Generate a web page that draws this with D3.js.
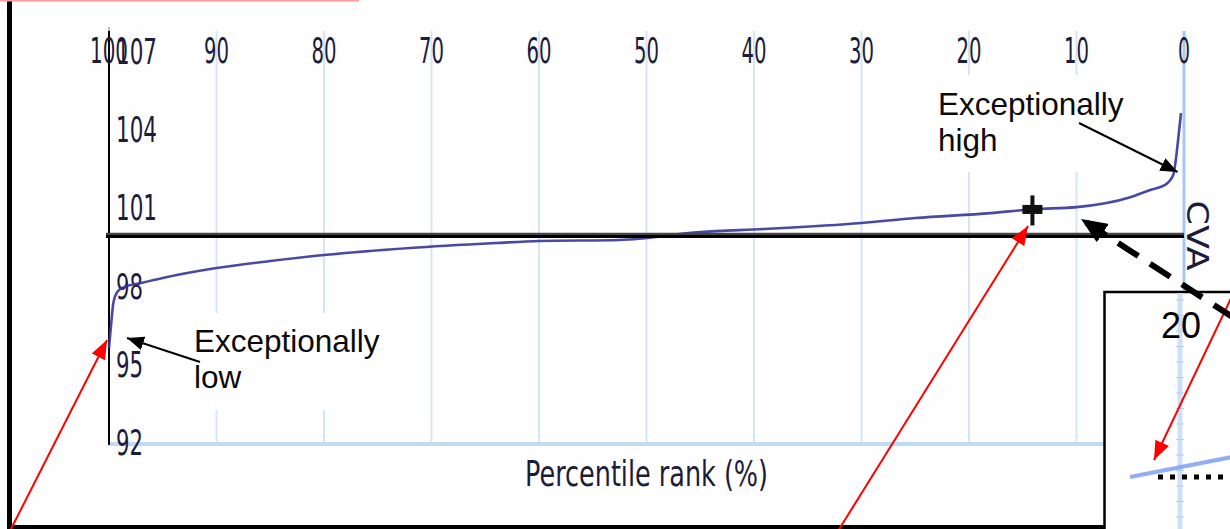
<!DOCTYPE html>
<html><head><meta charset="utf-8">
<script src="https://cdn.jsdelivr.net/npm/d3@7"></script>
<style>html,body{margin:0;padding:0;background:#fefefe;overflow:hidden}</style>
</head><body><svg id="c" width="1230" height="529"></svg>
<script>
// ---- data ----
const percentiles = [100, 99.8, 99.6, 99.2, 98.6, 97, 95, 90, 85, 80, 72, 64, 60, 52.5, 45, 39, 30, 25, 18, 14, 10, 5, 3.2, 1.8, 1.0, 0.8, 0.55, 0.28];
const values      = [95.7, 96.6, 97.4, 97.85, 98.02, 98.18, 98.37, 98.75, 99.02, 99.25, 99.52, 99.71, 99.79, 99.83, 100.13, 100.25, 100.48, 100.67, 100.86, 101.01, 101.09, 101.47, 101.74, 101.93, 102.32, 102.78, 103.66, 104.7];
const xTicks = [100, 90, 80, 70, 60, 50, 40, 30, 20, 10, 0];
const yTicks = [107, 104, 101, 98, 95, 92];
const referenceValue = 100;
const referenceLabel = "CVA";
const markerPct = [14.1];
const markerVal = [101.0];
const xTitle = "Percentile rank (%)";
const noteHigh = ["Exceptionally", "high"];
const noteLow = ["Exceptionally", "low"];
const insetLabel = "20";

// ---- scales ----
const x = d3.scaleLinear().domain([100, 0]).range([109, 1184]);
const y = d3.scaleLinear().domain([92, 108]).range([444, 27]);

const svg = d3.select("#c");
const defs = svg.append("defs");
function mk(id, color, len, wid) {
  defs.append("marker").attr("id", id).attr("markerUnits", "userSpaceOnUse")
    .attr("markerWidth", len).attr("markerHeight", wid)
    .attr("refX", len).attr("refY", wid / 2).attr("orient", "auto")
    .append("path").attr("d", `M0,0L${len},${wid / 2}L0,${wid}Z`).attr("fill", color);
}
mk("ahB", "#000", 17, 14);
mk("ahR", "#ff0000", 19, 15);
mk("ahD", "#000", 26, 22);

svg.append("rect").attr("width", 1230).attr("height", 529).attr("fill", "#fefefe");

const labFont = "'DejaVu Sans', sans-serif";
const labCol = "#1c1c3a";

// gridlines
const g = svg.append("g");
g.selectAll("line.grid").data(xTicks.filter(d => d !== 100)).join("line")
  .attr("x1", d => x(d)).attr("x2", d => x(d))
  .attr("y1", 31).attr("y2", y(92))
  .attr("stroke", d => d === 0 ? "#a9c8f1" : "#d5e5f8")
  .attr("stroke-width", d => d === 0 ? 3 : 2);

// annotation white boxes (hide gridlines)
svg.append("rect").attr("x", 918).attr("y", 75).attr("width", 240).attr("height", 97).attr("fill", "#fff");
svg.append("rect").attr("x", 173).attr("y", 313).attr("width", 222).attr("height", 97).attr("fill", "#fff");

// bottom axis line
svg.append("line").attr("x1", x(100)).attr("x2", 1104).attr("y1", y(92)).attr("y2", y(92))
  .attr("stroke", "#c3daf5").attr("stroke-width", 4);
// left axis line
svg.append("line").attr("x1", x(100)).attr("x2", x(100)).attr("y1", 27).attr("y2", y(92) + 1)
  .attr("stroke", "#000").attr("stroke-width", 2);
svg.append("line").attr("x1", x(100)).attr("x2", x(100)).attr("y1", 27).attr("y2", 31)
  .attr("stroke", "#bbb").attr("stroke-width", 2);

// x tick labels (top)
svg.append("g").selectAll("text").data(xTicks).join("text")
  .attr("x", d => x(d)).attr("y", 50).attr("dy", "0.36em")
  .attr("text-anchor", "middle").attr("font-family", labFont).attr("font-size", 36)
  .attr("fill", labCol)
  .attr("textLength", d => String(d).length * 13 - 1).attr("lengthAdjust", "spacingAndGlyphs")
  .text(d => d);

// y tick labels
svg.append("g").selectAll("text").data(yTicks).join("text")
  .attr("x", 116).attr("y", d => y(d) - 2).attr("dy", "0.36em")
  .attr("text-anchor", "start").attr("font-family", labFont).attr("font-size", 36)
  .attr("fill", labCol)
  .attr("textLength", d => String(d).length * 14 - 1).attr("lengthAdjust", "spacingAndGlyphs")
  .text(d => d);

// x title
svg.append("text").attr("x", x(50)).attr("y", 473).attr("dy", "0.36em")
  .attr("text-anchor", "middle").attr("font-family", labFont).attr("font-size", 36)
  .attr("fill", labCol).attr("textLength", 243).attr("lengthAdjust", "spacingAndGlyphs")
  .text(xTitle);

// curve
const pts = percentiles.map((p, i) => [p, values[i]]);
svg.append("path").datum(pts)
  .attr("d", d3.line().x(d => x(d[0])).y(d => y(d[1])).curve(d3.curveMonotoneX))
  .attr("fill", "none").attr("stroke", "#35359a").attr("stroke-width", 2.6).attr("stroke-opacity", 0.9);

// reference line
svg.append("line").attr("x1", 106).attr("x2", x(0)).attr("y1", y(referenceValue) - 1.5).attr("y2", y(referenceValue) - 1.5)
  .attr("stroke", "#444").attr("stroke-width", 2.5);
svg.append("line").attr("x1", 106).attr("x2", x(0)).attr("y1", y(referenceValue) + 1).attr("y2", y(referenceValue) + 1)
  .attr("stroke", "#000").attr("stroke-width", 3);
svg.append("text").attr("transform", `translate(1198,${y(referenceValue)}) rotate(90)`)
  .attr("dy", "0.36em").attr("text-anchor", "middle").attr("font-family", labFont).attr("font-size", 30)
  .attr("fill", labCol).attr("textLength", 70).attr("lengthAdjust", "spacingAndGlyphs")
  .text(referenceLabel);

// marker "+"
const mg = svg.append("g").selectAll("g").data(markerPct).join("g")
  .attr("transform", (d, i) => `translate(${x(d)},${y(markerVal[i])})`);
mg.append("rect").attr("x", -10).attr("y", -4.5).attr("width", 20).attr("height", 9).attr("fill", "#111");
mg.append("rect").attr("x", -2).attr("y", -14).attr("width", 4).attr("height", 30).attr("fill", "#111");

// annotations
const noteFont = "'Liberation Sans', Arial, sans-serif";
svg.append("text").attr("font-family", noteFont).attr("font-size", 31.5).attr("fill", "#0a0a0a")
  .selectAll("tspan").data(noteHigh).join("tspan")
  .attr("x", 938).attr("y", (d, i) => 115 + i * 36).text(d => d);
svg.append("text").attr("font-family", noteFont).attr("font-size", 31.5).attr("fill", "#0a0a0a")
  .selectAll("tspan").data(noteLow).join("tspan")
  .attr("x", 194).attr("y", (d, i) => 352 + i * 36).text(d => d);

svg.append("line").attr("x1", 1079).attr("y1", 123).attr("x2", x(0.6)).attr("y2", 172)
  .attr("stroke", "#000").attr("stroke-width", 2).attr("marker-end", "url(#ahB)");
svg.append("line").attr("x1", 200).attr("y1", 362).attr("x2", 127).attr("y2", 338)
  .attr("stroke", "#000").attr("stroke-width", 2).attr("marker-end", "url(#ahB)");

// inset box
svg.append("rect").attr("x", 1104.5).attr("y", 292).attr("width", 140).attr("height", 250)
  .attr("fill", "#fff").attr("stroke", "#000").attr("stroke-width", 2.5);
svg.append("line").attr("x1", 1180).attr("x2", 1180).attr("y1", 293).attr("y2", 529)
  .attr("stroke", "#cde0f8").attr("stroke-width", 5);
svg.append("g").selectAll("line").data(d3.range(300, 529, 15.5)).join("line")
  .attr("x1", 1176).attr("x2", 1184).attr("y1", d => d).attr("y2", d => d)
  .attr("stroke", "#b5cff2").attr("stroke-width", 1);
svg.append("text").attr("x", 1181).attr("y", 338).attr("text-anchor", "middle")
  .attr("font-family", noteFont).attr("font-size", 36).attr("fill", "#000").text(insetLabel);
svg.append("line").attr("x1", 1130).attr("y1", 477).attr("x2", 1232).attr("y2", 457)
  .attr("stroke", "#7f9ff3").attr("stroke-width", 4).attr("stroke-opacity", 0.85);
svg.append("line").attr("x1", 1158).attr("y1", 477).attr("x2", 1232).attr("y2", 477)
  .attr("stroke", "#000").attr("stroke-width", 5).attr("stroke-dasharray", "5,7");

// outer frame
svg.append("line").attr("x1", 9.5).attr("x2", 9.5).attr("y1", 0).attr("y2", 529).attr("stroke", "#000").attr("stroke-width", 5);
svg.append("line").attr("x1", 7).attr("x2", 1105).attr("y1", 527).attr("y2", 527).attr("stroke", "#000").attr("stroke-width", 4);
svg.append("line").attr("x1", 0).attr("x2", 359).attr("y1", 0.5).attr("y2", 0.5).attr("stroke", "#ff9a9a").attr("stroke-width", 2);

// red arrows
svg.append("line").attr("x1", 10).attr("y1", 531).attr("x2", 107).attr("y2", 340)
  .attr("stroke", "#ff0000").attr("stroke-width", 2).attr("marker-end", "url(#ahR)");
svg.append("line").attr("x1", 838).attr("y1", 531).attr("x2", 1028).attr("y2", 226)
  .attr("stroke", "#ff0000").attr("stroke-width", 2).attr("marker-end", "url(#ahR)");
svg.append("line").attr("x1", 1234).attr("y1", 292).attr("x2", 1154).attr("y2", 460)
  .attr("stroke", "#ff0000").attr("stroke-width", 2).attr("marker-end", "url(#ahR)");

// dashed black arrow
svg.append("line").attr("x1", 1234).attr("y1", 318).attr("x2", 1081).attr("y2", 219)
  .attr("stroke", "#000").attr("stroke-width", 6).attr("stroke-dasharray", "24,14")
  .attr("marker-end", "url(#ahD)");
</script></body></html>
